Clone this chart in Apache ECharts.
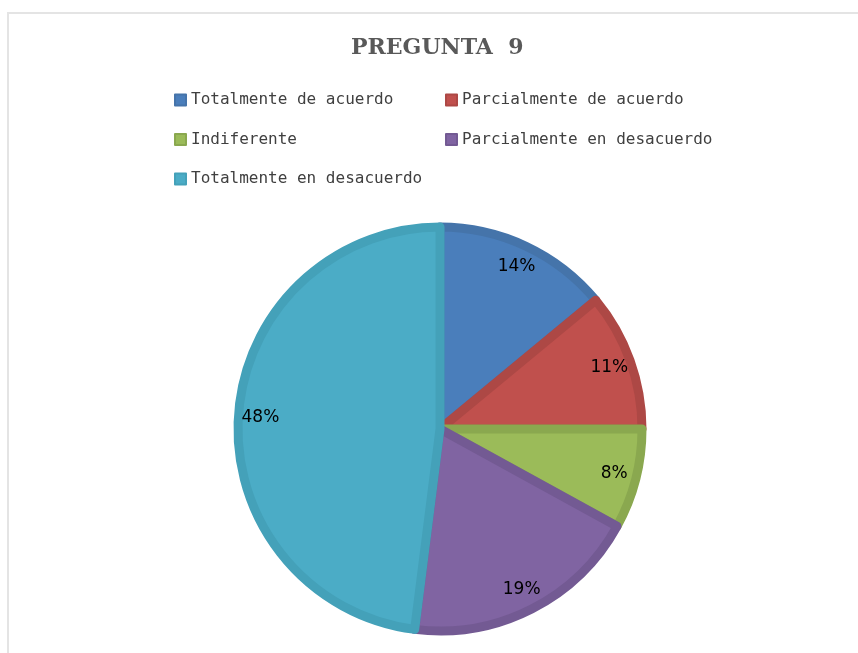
<!DOCTYPE html>
<html>
<head>
<meta charset="utf-8">
<script src="https://cdn.jsdelivr.net/npm/echarts@6/dist/echarts.min.js"></script>
<style>
html, body { margin: 0; padding: 0; background: #fff; }
#container { width: 858px; height: 653px; }
</style>
</head>
<body>
<div id="container"></div>
<script>
var categories = ['Totalmente de acuerdo', 'Parcialmente de acuerdo', 'Indiferente', 'Parcialmente en desacuerdo', 'Totalmente en desacuerdo'];
var values = [14, 11, 8, 19, 48];
var fillColors = ['#4a7ebb', '#c0504d', '#9bbb59', '#8064a2', '#4bacc6'];
var borderColors = ['#4574aa', '#ad4845', '#8aa84f', '#735a93', '#44a1b9'];

var dom = document.getElementById("container");
var myChart = echarts.init(dom);

var CX = 440, CY = 429, R = 202;

var pieData = [];
for (var i = 0; i < categories.length; i++) {
    pieData.push({
        name: categories[i],
        value: values[i],
        itemStyle: { color: fillColors[i], borderColor: borderColors[i] }
    });
}

var legendText = {
    fontFamily: 'DejaVu Sans Mono',
    fontSize: 16,
    lineHeight: 16,
    color: '#404040'
};

var option = {
    animation: false,
    title: {
        text: 'PREGUNTA  9',
        left: 346,
        top: 32,
        textStyle: {
            fontFamily: 'DejaVu Serif',
            fontWeight: 'bold',
            fontSize: 22,
            color: '#595959'
        }
    },
    legend: [
        {
            orient: 'vertical',
            left: 174,
            top: 92,
            padding: 0,
            itemWidth: 11,
            itemHeight: 11,
            itemGap: 23.5,
            icon: 'rect',
            data: [categories[0], categories[2], categories[4]],
            textStyle: legendText
        },
        {
            orient: 'vertical',
            left: 445,
            top: 92,
            padding: 0,
            itemWidth: 11,
            itemHeight: 11,
            itemGap: 23.5,
            icon: 'rect',
            data: [categories[1], categories[3]],
            textStyle: legendText
        }
    ],
    graphic: [
        {
            type: 'polyline',
            silent: true,
            shape: { points: [[8, 653], [8, 13], [858, 13]] },
            style: { stroke: '#e4e4e4', lineWidth: 2, fill: null }
        }
    ],
    series: [
        {
            type: 'pie',
            center: [CX, CY],
            radius: [0, R],
            startAngle: 90,
            clockwise: true,
            avoidLabelOverlap: false,
            itemStyle: { borderWidth: 9 },
            label: {
                show: true,
                position: 'inside',
                formatter: '{c}%',
                fontFamily: 'DejaVu Sans',
                fontSize: 17,
                color: '#000'
            },
            labelLine: { show: false },
            // 把标签往外推到大约 0.86 半径处
            labelLayout: function (params) {
                var r = params.labelRect;
                var lx = r.x + r.width / 2;
                var ly = r.y + r.height / 2;
                var k = 0.73;
                return { dx: (lx - CX) * k, dy: (ly - CY) * k };
            },
            emphasis: { disabled: true },
            data: pieData
        }
    ]
};

if (option && typeof option === "object") {
    myChart.setOption(option, false);
}
</script>
</body>
</html>
